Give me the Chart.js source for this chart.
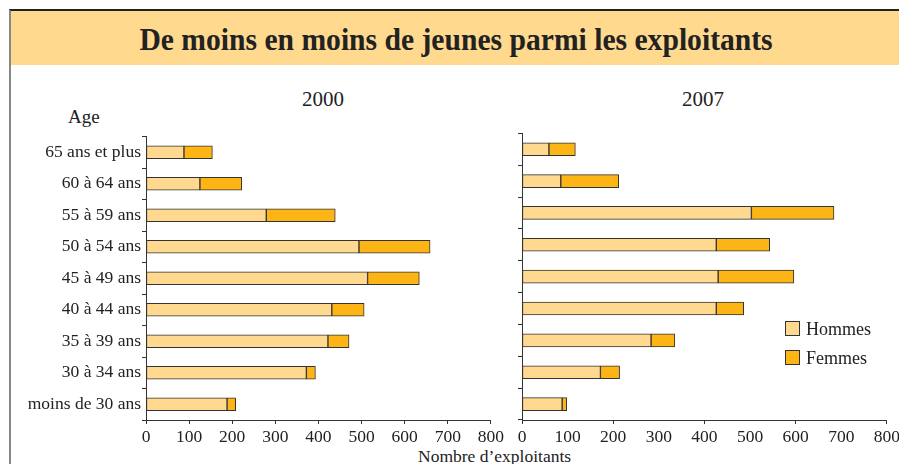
<!DOCTYPE html>
<html lang="fr">
<head>
<meta charset="utf-8">
<script src="https://cdn.jsdelivr.net/npm/chart.js@4/dist/chart.umd.min.js"></script>
<style>
html, body { margin: 0; padding: 0; overflow: hidden; background: #fff; }
body { width: 899px; height: 464px; position: relative; font-family: "Liberation Serif", "Times New Roman", serif; color: #222; }
#cadre { position: absolute; left: 9px; top: 9px; width: 900px; height: 470px; border-top: 2px solid #222; border-left: 2px solid #888; }
#bandeau { position: absolute; left: 11px; top: 11px; width: 888px; height: 54px; background: #FFD98E; }
#titre { position: absolute; left: 11px; top: 11px; width: 890px; height: 54px; line-height: 57px; text-align: center; font-weight: bold; font-size: 31px; color: #222; transform: scaleX(0.955); transform-origin: 446px 0; }
.txt { position: absolute; white-space: nowrap; }
canvas { position: absolute; }
#legende { position: absolute; left: 785px; top: 318px; font-size: 18px; }
#legende div { height: 28.5px; line-height: 22px; }
#legende span.carre { display: inline-block; width: 13px; height: 13px; border: 1px solid #333; vertical-align: -1px; margin-right: 6px; }
</style>
</head>
<body>
<div id="cadre"></div>
<div id="bandeau"></div>
<div id="titre">De moins en moins de jeunes parmi les exploitants</div>

<div class="txt" style="left:302px; top:87px; font-size:21px;">2000</div>
<div class="txt" style="left:682px; top:87px; font-size:21px;">2007</div>
<div class="txt" style="left:68px; top:106px; font-size:19px;">Age</div>
<div class="txt" style="left:418px; top:446px; font-size:17.5px;">Nombre d’exploitants</div>

<canvas id="g2000" width="507" height="325" style="left:0px; top:125px; width:507px; height:325px;"></canvas>
<canvas id="g2007" width="398" height="325" style="left:505px; top:125px; width:398px; height:325px;"></canvas>
<div id="legende"></div>

<script>
// classes d'age, de haut en bas
var ages = ['65 ans et plus', '60 à 64 ans', '55 à 59 ans', '50 à 54 ans', '45 à 49 ans',
            '40 à 44 ans', '35 à 39 ans', '30 à 34 ans', 'moins de 30 ans'];

// nombre d'exploitants
var hommes2000 = [88, 125, 279, 494, 514, 431, 422, 372, 188];
var femmes2000 = [66, 97, 160, 165, 120, 75, 49, 21, 20];
var hommes2007 = [59, 85, 503, 426, 430, 426, 283, 172, 88];
var femmes2007 = [58, 127, 181, 117, 166, 60, 52, 42, 10];

var series = ['Hommes', 'Femmes'];
var couleurs = ['#FFD990', '#FDB515'];

var axeMin = 0, axeMax = 800, pas = 100;

var police = '"Liberation Serif", "Times New Roman", serif';
var trait = '#333';

function jeux(h, f) {
	var d = [h, f];
	return series.map(function (nom, i) {
		return {
			label: nom,
			data: d[i],
			backgroundColor: couleurs[i],
			borderColor: trait,
			borderWidth: 1,
			borderSkipped: false,
			barThickness: 13
		};
	});
}

// un graphique par annee, meme echelle 0-800
function graphique(id, h, f, largeurAxe, avecLibelles, tousLesTraits) {
	var ctx = document.getElementById(id).getContext('2d');
	return new Chart(ctx, {
		type: 'bar',
		data: { labels: ages, datasets: jeux(h, f) },
		options: {
			indexAxis: 'y',
			responsive: false,
			animation: false,
			layout: { padding: { top: 8.3, right: 14, left: 0, bottom: 0 } },
			plugins: { legend: { display: false }, tooltip: { enabled: false }, title: { display: false } },
			scales: {
				x: {
					stacked: true,
					min: axeMin, max: axeMax,
					ticks: { stepSize: pas, color: '#222', padding: 3, maxRotation: 0, autoSkip: false,
						font: { family: police, size: 17.5 } },
					grid: {
						drawOnChartArea: false, drawTicks: true, tickLength: 4,
						tickColor: function (c) { return (tousLesTraits || c.index % 2 === 0) ? trait : 'rgba(0,0,0,0)'; }
					},
					border: { color: trait, width: 1 },
					afterFit: function (s) { s.height = 30; }
				},
				y: {
					stacked: true,
					ticks: { display: avecLibelles, color: '#222', padding: 1, font: { family: police, size: 17.5 } },
					grid: { drawOnChartArea: false, drawTicks: true, tickLength: 4, tickColor: trait, offset: true },
					border: { color: trait, width: 1 },
					afterFit: function (s) { s.width = largeurAxe; }
				}
			}
		}
	});
}

graphique('g2000', hommes2000, femmes2000, 146, true, true);
graphique('g2007', hommes2007, femmes2007, 17, false, false);

// legende
var leg = document.getElementById('legende');
series.forEach(function (nom, i) {
	var ligne = document.createElement('div');
	ligne.innerHTML = '<span class="carre" style="background:' + couleurs[i] + '"></span>' + nom;
	leg.appendChild(ligne);
});
</script>
</body>
</html>
